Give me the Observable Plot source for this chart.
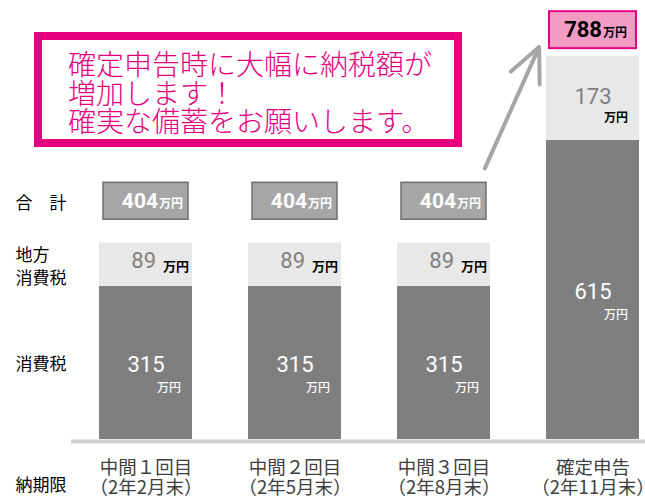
<!DOCTYPE html>
<html><head><meta charset="utf-8">
<script src="https://cdn.jsdelivr.net/npm/d3@7"></script>
<script src="https://cdn.jsdelivr.net/npm/@observablehq/plot@0.6"></script>
<style>
body{margin:0;background:#fff;}
#chart{position:relative;width:645px;height:498px;}
</style></head><body><div id="chart"></div>
<script>
// ---- data ----
const categories = ["中間１回目", "中間２回目", "中間３回目", "確定申告"];
const dueDates = ["（2年2月末）", "（2年5月末）", "（2年8月末）", "（2年11月末）"];
const consumptionTax = [315, 315, 315, 615];        // 消費税
const localConsumptionTax = [89, 89, 89, 173];      // 地方消費税
const totals = [404, 404, 404, 788];                // 合計
const unit = "万円";
const rowLabels = ["合　計", "地方\n消費税", "消費税"];
const dueLabel = "納期限";
const calloutLines = ["確定申告時に大幅に納税額が", "増加します！", "確実な備蓄をお願いします。"];

// ---- derived tables ----
const finalCat = categories[categories.length - 1];
const dark = categories.map((c, i) => ({cat: c, y1: 0, y2: consumptionTax[i], v: consumptionTax[i]}));
const light = categories.map((c, i) => ({cat: c, y1: consumptionTax[i], y2: consumptionTax[i] + localConsumptionTax[i], v: localConsumptionTax[i]}));
const mid = d => (d.y1 + d.y2) / 2;
const totalRowValue = 490;          // value level of the 合計 row
const boxHalf = 38;                 // half box height in value units
const totalRows = categories.map((c, i) => ({
  cat: c, total: totals[i], final: c === finalCat,
  yc: c === finalCat ? totals[i] + 54 : totalRowValue
}));
const catRows = categories.map((c, i) => ({cat: c, due: dueDates[i]}));
const rowLabelRows = [
  {label: rowLabels[0], y: totalRowValue},
  {label: rowLabels[1], y: mid(light[0])},
  {label: rowLabels[2], y: mid(dark[0])}
];

const CJK = "'Noto Sans CJK JP', 'Noto Sans', sans-serif";
const NUM = "Roboto, 'Liberation Sans', sans-serif";

const plot = Plot.plot({
  width: 645, height: 498,
  marginTop: 0, marginBottom: 0, marginLeft: 15, marginRight: 0,
  x: {domain: categories, range: [98, 639], paddingInner: 0.376, paddingOuter: 0, axis: null},
  y: {domain: [0, 903], range: [439, 0], axis: null},
  style: {background: "#fff", overflow: "visible"},
  marks: [
    // callout
    () => {
      const g = d3.create("svg:g");
      g.append("rect").attr("x", 38).attr("y", 36).attr("width", 420).attr("height", 107)
        .attr("fill", "#fff").attr("stroke", "#e4007f").attr("stroke-width", 8);
      const t = g.append("text").attr("fill", "#e4007f").attr("font-family", CJK)
        .attr("text-anchor", "start")
        .attr("font-size", 28).attr("font-weight", 300);
      calloutLines.forEach((s, i) => t.append("tspan").attr("x", 68).attr("y", 75 + i * 28.5).text(s));
      return g.node();
    },
    Plot.ruleY([0], {stroke: "#d0d0d0", strokeWidth: 4, insetLeft: 56, dy: 2}),
    Plot.barY(dark, {x: "cat", y1: "y1", y2: "y2", fill: "#7f7f7f"}),
    Plot.barY(light, {x: "cat", y1: "y1", y2: "y2", fill: "#e8e8e8"}),
    // total boxes
    Plot.barY(totalRows.filter(d => !d.final), {x: "cat", y1: d => d.yc - boxHalf, y2: d => d.yc + boxHalf,
      insetLeft: 4, insetRight: 4, fill: "#a6a6a6", stroke: "#6f6f6f", strokeWidth: 1.5}),
    Plot.barY(totalRows.filter(d => d.final), {x: "cat", y1: d => d.yc - boxHalf, y2: d => d.yc + boxHalf,
      insetLeft: 3, insetRight: 3, fill: "#f29cc5", stroke: "#e4007f", strokeWidth: 2}),
    Plot.text(totalRows.filter(d => !d.final), {x: "cat", y: "yc", text: d => String(d.total), textAnchor: "end", dx: 12,
      fill: "#fff", fontSize: 21, fontWeight: "bold", fontFamily: NUM}),
    Plot.text(totalRows.filter(d => d.final), {x: "cat", y: "yc", text: d => String(d.total), textAnchor: "end", dx: 9,
      fill: "#000", fontSize: 22, fontWeight: "bold", fontFamily: NUM}),
    Plot.text(totalRows.filter(d => !d.final), {x: "cat", y: "yc", text: () => unit, textAnchor: "start", dx: 13, dy: 3,
      fill: "#fff", fontSize: 12, fontWeight: "bold", fontFamily: CJK}),
    Plot.text(totalRows.filter(d => d.final), {x: "cat", y: "yc", text: () => unit, textAnchor: "start", dx: 10, dy: 3,
      fill: "#000", fontSize: 12, fontWeight: "bold", fontFamily: CJK}),
    // arrow
    Plot.arrow([{from: categories[2], to: finalCat}], {x1: "from", x2: "to", y1: () => 370, y2: () => 1055,
      insetStart: 100, insetEnd: 132, stroke: "#a6a6a6", strokeWidth: 4, headLength: 14, headAngle: 50}),
    // dark segment labels
    Plot.text(dark, {x: "cat", y: mid, text: d => String(d.v), fill: "#fff", fontSize: 22, fontFamily: NUM, dy: 2}),
    Plot.text(dark, {x: "cat", y: mid, text: () => unit, fill: "#fff", fontSize: 12, fontWeight: 500, fontFamily: CJK,
      textAnchor: "end", dx: 35, dy: 25}),
    // light segment labels
    Plot.text(light.filter(d => d.cat !== finalCat), {x: "cat", y: mid, text: d => String(d.v), fill: "#808080",
      fontSize: 22, fontFamily: NUM, textAnchor: "end", dx: 10, dy: -4}),
    Plot.text(light.filter(d => d.cat !== finalCat), {x: "cat", y: mid, text: () => unit, fill: "#000",
      fontSize: 13, fontWeight: "bold", fontFamily: CJK, textAnchor: "start", dx: 17, dy: 2}),
    Plot.text(light.filter(d => d.cat === finalCat), {x: "cat", y: mid, text: d => String(d.v), fill: "#808080",
      fontSize: 22, fontFamily: NUM, dy: -2}),
    Plot.text(light.filter(d => d.cat === finalCat), {x: "cat", y: mid, text: () => unit, fill: "#000",
      fontSize: 12, fontWeight: "bold", fontFamily: CJK, textAnchor: "end", dx: 35, dy: 20}),
    // category labels
    Plot.text(catRows, {x: "cat", y: () => 0, text: d => d.cat + "\n" + d.due, dy: 38, fontSize: 18.5, lineHeight: 1.1,
      fill: "#404040", fontFamily: CJK}),
    // row labels
    Plot.text(rowLabelRows, {y: "y", text: "label", frameAnchor: "left", textAnchor: "start", fontSize: 17,
      lineHeight: 1.35, fill: "#000", fontFamily: CJK}),
    Plot.text([dueLabel], {y: () => 0, text: d => d, frameAnchor: "left", textAnchor: "start", dy: 46, fontSize: 17,
      fill: "#000", fontFamily: CJK})
  ]
});
document.getElementById("chart").appendChild(plot);
</script></body></html>
